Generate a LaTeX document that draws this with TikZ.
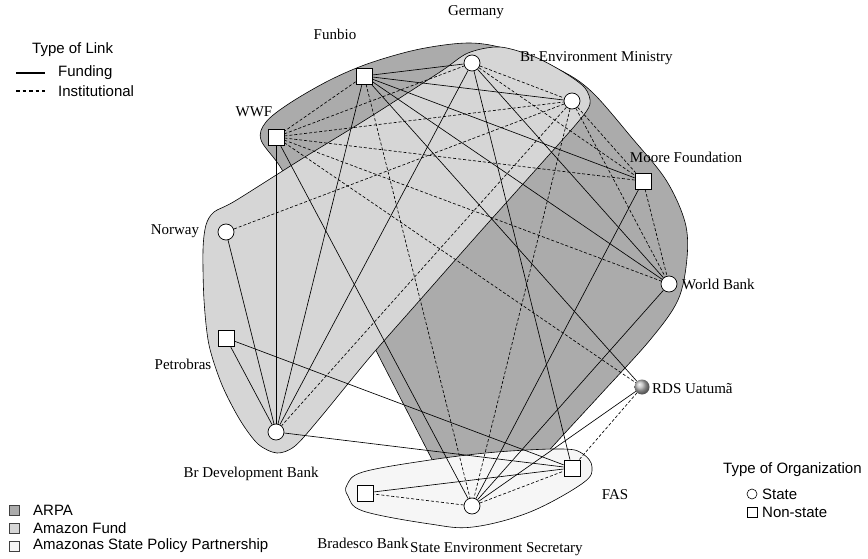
\documentclass[tikz,border=0pt]{standalone}
\usepackage{fontspec}
\setmainfont{Liberation Serif}
\newfontfamily\legfont{Liberation Sans}
\definecolor{arpa}{HTML}{ABABAB}
\definecolor{afund}{HTML}{D6D6D6}
\definecolor{aspp}{HTML}{F6F6F6}
\pgfdeclarelayer{bg}
\pgfdeclarelayer{edges}
\pgfsetlayers{bg,edges,main}
\begin{document}
\begin{tikzpicture}[x=1pt,y=-1pt,
  sq/.style={draw, fill=white, minimum size=16pt, inner sep=0pt, line width=0.7pt},
  ci/.style={circle, draw, fill=white, minimum size=16pt, inner sep=0pt, line width=0.7pt},
  lab/.style={font=\fontsize{15}{18}\selectfont, inner sep=0pt},
  leg/.style={font=\legfont\fontsize{15}{18}\selectfont, inner sep=0pt, anchor=west},
  fund/.style={line width=0.65pt},
  inst/.style={line width=0.65pt, dash pattern=on 3pt off 2pt},
  hull/.style={draw, line width=0.6pt}]
\useasboundingbox (0,0) rectangle (868,559);

% nodes
\node[sq] (F) at (364,76) {};
\node[ci] (G) at (472,63) {};
\node[ci] (E) at (572,101) {};
\node[sq] (W) at (276,137) {};
\node[sq] (M) at (643,181) {};
\node[ci] (N) at (226,232) {};
\node[ci] (WB) at (669,284) {};
\node[sq] (P) at (226,338) {};
\node[ci] (D) at (276,432) {};
\node[circle, shading=ball, ball color=gray!55, minimum size=15pt, inner sep=0pt] (R) at (642,387) {};
\node[sq] (FAS) at (572,468) {};
\node[sq] (B) at (365,493) {};
\node[ci] (S) at (472,506) {};

% hulls
\begin{pgfonlayer}{bg}
\draw[hull, fill=arpa] plot[smooth cycle, tension=0.55] coordinates {
 (261,140) (266,122) (290,103) (330,80) (370,63) (420,49) (470,43) (510,50)
 (560,70) (592,92) (632,138) (666,180) (685,222) (687,258) (678,300) (650,340)
 (600,395) (545,455) (500,508) (480,520) (462,512) (448,490) (422,440)
 (386,370) (345,290) (306,215) (281,168)};
\draw[hull, fill=afund] plot[smooth cycle, tension=0.5] coordinates {
 (214,212) (235,201) (300,160) (370,117) (440,72) (468,53) (500,47) (535,57)
 (565,73) (585,88) (590,104) (578,122) (540,165) (480,232) (420,300) (370,357)
 (320,418) (295,446) (277,453) (258,444) (240,420) (222,385) (209,345)
 (204,300) (203,250) (206,225)};
\draw[hull, fill=aspp] plot[smooth cycle, tension=0.6] coordinates {
 (347,485) (363,472) (430,460) (497,452) (563,449) (583,454) (592,467)
 (583,483) (530,512) (473,527) (430,524) (363,511) (348,496)};
\end{pgfonlayer}

% edges
\begin{pgfonlayer}{edges}
\draw[fund] (F) -- (G);
\draw[fund] (F) -- (E);
\draw[fund] (F) -- (M);
\draw[fund] (F) -- (WB);
\draw[fund] (F) -- (D);
\draw[fund] (F) -- (R);
\draw[fund] (G) -- (D);
\draw[fund] (G) -- (WB);
\draw[fund] (G) -- (FAS);
\draw[fund] (W) -- (D);
\draw[fund] (W) -- (S);
\draw[fund] (N) -- (D);
\draw[fund] (P) -- (D);
\draw[fund] (P) -- (FAS);
\draw[fund] (D) -- (FAS);
\draw[fund] (M) -- (S);
\draw[fund] (WB) -- (S);
\draw[fund] (S) -- (R);
\draw[fund] (B) -- (FAS);
\draw[inst] (F) -- (W);
\draw[inst] (F) -- (S);
\draw[inst] (W) -- (G);
\draw[inst] (W) -- (E);
\draw[inst] (W) -- (M);
\draw[inst] (W) -- (WB);
\draw[inst] (W) -- (R);
\draw[inst] (G) -- (E);
\draw[inst] (G) -- (M);
\draw[inst] (E) -- (M);
\draw[inst] (E) -- (WB);
\draw[inst] (E) -- (N);
\draw[inst] (E) -- (D);
\draw[inst] (E) -- (S);
\draw[inst] (M) -- (WB);
\draw[inst] (S) -- (B);
\draw[inst] (S) -- (FAS);
\draw[inst] (R) -- (FAS);
\end{pgfonlayer}

% labels
\node[lab] (tG) at (476,12) {Germany};
\node[lab] (tF) at (335,34) {Funbio};
\node[lab, anchor=west] (tE) at (520,58) {Br Environment Ministry};
\node[lab] (tW) at (254,112) {WWF};
\node[lab] (tM) at (686,157) {Moore Foundation};
\node[lab] (tN) at (175,231) {Norway};
\node[lab, anchor=west] (tWB) at (682,284) {World Bank};
\node[lab] (tP) at (183,364) {Petrobras};
\node[lab] (tD) at (251,474) {Br Development Bank};
\node[lab, anchor=west] (tR) at (652,389) {RDS Uatumã};
\node[lab] (tFAS) at (615,495) {FAS};
\node[lab] (tB) at (363,543) {Bradesco Bank};
\node[lab, anchor=west] (tS) at (410,549) {State Environment Secretary};

% legend: links
\node[leg] (lgT) at (32,50) {Type of Link};
\coordinate (f1) at (16,73); \coordinate (f2) at (45,73);
\coordinate (i1) at (16,91); \coordinate (i2) at (45,91);
\draw[line width=1.3pt] (f1) -- (f2);
\draw[line width=1.1pt, dash pattern=on 3.5pt off 3pt] (i1) -- (i2);
\node[leg] (lgF) at (58,73) {Funding};
\node[leg] (lgI) at (58,91) {Institutional};

% legend: groups
\node[draw=black!75, fill=arpa, minimum size=10pt, inner sep=0pt, line width=0.6pt] (ga) at (14,510) {};
\node[draw=black!75, fill=afund, minimum size=10pt, inner sep=0pt, line width=0.6pt] (gb) at (14,528) {};
\node[draw=black!75, fill=aspp, minimum size=10pt, inner sep=0pt, line width=0.6pt] (gc) at (14,546) {};
\node[leg] (gta) at (33,510) {ARPA};
\node[leg] (gtb) at (33,528) {Amazon Fund};
\node[leg] (gtc) at (33,546) {Amazonas State Policy Partnership};

% legend: organization
\node[leg] (oT) at (723,470) {Type of Organization};
\node[circle, draw, minimum size=10pt, inner sep=0pt, line width=0.6pt] (os) at (752,494) {};
\node[draw, minimum size=10pt, inner sep=0pt, line width=0.6pt] (on) at (752,512) {};
\node[leg] (ost) at (762,494) {State};
\node[leg] (ont) at (762,512) {Non-state};
\end{tikzpicture}
\end{document}
